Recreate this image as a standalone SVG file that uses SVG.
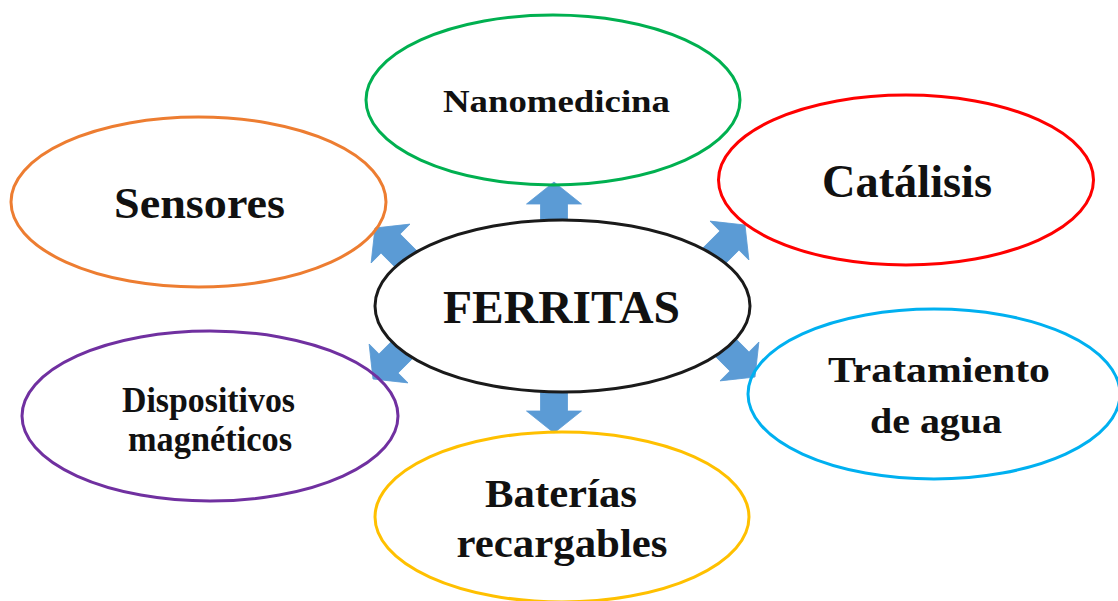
<svg xmlns="http://www.w3.org/2000/svg" xmlns:xlink="http://www.w3.org/1999/xlink" width="1118" height="601" viewBox="0 0 1118 601">
<style>
.bg{fill:#ffffff}
.node{fill:none;stroke-width:3}
.center{fill:#ffffff;stroke:#1a1a1a;stroke-width:3}
.lbl{font-family:"Liberation Serif","Times New Roman",serif;font-weight:bold;fill:#111111;text-anchor:middle}
.arrow{fill:#5B9BD5;stroke:#5B9BD5;stroke-width:0.8;stroke-linejoin:miter}
</style>
<defs>
<polygon id="blk" points="0,0 27.5,22 13.5,22 13.5,55 -13.5,55 -13.5,22 -27.5,22"/>
</defs>
<rect class="bg" x="0" y="0" width="1118" height="601"/>
<g id="connectors">
<use xlink:href="#blk" class="arrow" transform="translate(554,182)"/>
<use xlink:href="#blk" class="arrow" transform="translate(554,433) rotate(180)"/>
<use xlink:href="#blk" class="arrow" transform="translate(375,228) rotate(-45)"/>
<use xlink:href="#blk" class="arrow" transform="translate(745,225) rotate(45)"/>
<use xlink:href="#blk" class="arrow" transform="translate(373,379) rotate(-135)"/>
<use xlink:href="#blk" class="arrow" transform="translate(755,377) rotate(135)"/>
</g>
<g id="node-ferritas">
<ellipse class="center" cx="562.5" cy="306" rx="187.5" ry="86"/>
<text class="lbl" x="561.5" y="323" font-size="47" textLength="237" lengthAdjust="spacingAndGlyphs">FERRITAS</text>
</g>
<g id="node-nanomedicina">
<ellipse class="node" stroke="#00B050" cx="553" cy="100" rx="187" ry="85"/>
<text class="lbl" x="556.5" y="112" font-size="31" textLength="227" lengthAdjust="spacingAndGlyphs">Nanomedicina</text>
</g>
<g id="node-sensores">
<ellipse class="node" stroke="#ED7D31" cx="198.5" cy="202" rx="187.5" ry="85"/>
<text class="lbl" x="199.5" y="218" font-size="45" textLength="171" lengthAdjust="spacingAndGlyphs">Sensores</text>
</g>
<g id="node-catalisis">
<ellipse class="node" stroke="#FF0000" cx="906" cy="180" rx="187.5" ry="85"/>
<text class="lbl" x="907" y="197" font-size="46" textLength="170" lengthAdjust="spacingAndGlyphs">Catálisis</text>
</g>
<g id="node-dispositivos">
<ellipse class="node" stroke="#7030A0" cx="210" cy="416" rx="188" ry="85"/>
<text class="lbl" x="208.5" y="412" font-size="35" textLength="173" lengthAdjust="spacingAndGlyphs">Dispositivos</text>
<text class="lbl" x="210" y="451" font-size="35" textLength="164" lengthAdjust="spacingAndGlyphs">magnéticos</text>
</g>
<g id="node-tratamiento">
<ellipse class="node" stroke="#00B0F0" cx="934" cy="394" rx="186" ry="85"/>
<text class="lbl" x="939" y="382" font-size="35" textLength="222" lengthAdjust="spacingAndGlyphs">Tratamiento</text>
<text class="lbl" x="936" y="433" font-size="35" textLength="132" lengthAdjust="spacingAndGlyphs">de agua</text>
</g>
<g id="node-baterias">
<ellipse class="node" stroke="#FFC000" cx="562" cy="517" rx="187" ry="85"/>
<text class="lbl" x="561" y="507" font-size="39" textLength="152" lengthAdjust="spacingAndGlyphs">Baterías</text>
<text class="lbl" x="562" y="557" font-size="39" textLength="211" lengthAdjust="spacingAndGlyphs">recargables</text>
</g>
</svg>
